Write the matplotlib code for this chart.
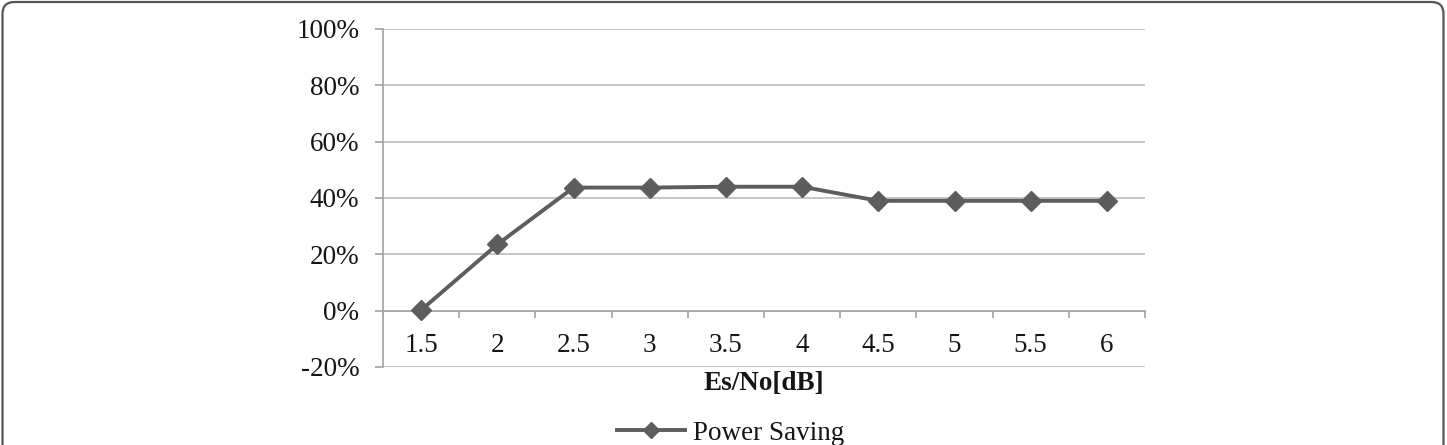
import matplotlib
matplotlib.use("Agg")
import matplotlib.pyplot as plt
import matplotlib.patches as mpatches
from matplotlib.ticker import FixedLocator, FuncFormatter

categories = ["1.5", "2", "2.5", "3", "3.5", "4", "4.5", "5", "5.5", "6"]
power_saving = [0.002, 0.235, 0.437, 0.437, 0.44, 0.44, 0.39, 0.39, 0.39, 0.39]
y_ticks = [-0.2, 0.0, 0.2, 0.4, 0.6, 0.8, 1.0]
series_name = "Power Saving"
x_label = "Es/No[dB]"

W, H = 1447, 445
FS = 19.5
plt.rcParams['font.family'] = ['Liberation Serif', 'DejaVu Serif']
fig = plt.figure(figsize=(W / 100, H / 100), dpi=100)

ax = fig.add_axes([383 / W, 1 - 367 / H, (1145 - 383) / W, (367 - 29) / H])
x = list(range(len(categories)))
line_color = "#5d5d5d"
grid_color = "#c0c0c0"
axis_color = "#a8a8a8"
text_color = "#151515"

ln, = ax.plot(x, power_saving, color=line_color, lw=2.8, marker='D', markersize=10,
              markerfacecolor=line_color, markeredgecolor=line_color, zorder=5,
              label=series_name, clip_on=False)

ax.set_xlim(-0.5, len(categories) - 0.5)
ax.set_ylim(y_ticks[0], y_ticks[-1])
ax.yaxis.set_major_locator(FixedLocator(y_ticks))
ax.yaxis.set_major_formatter(FuncFormatter(lambda v, p: f"{v*100:.0f}%"))
ax.grid(axis='y', color=grid_color, lw=1.3, zorder=0)
ax.set_axisbelow(True)

for s in ['top', 'right']:
    ax.spines[s].set_visible(False)
ax.spines['left'].set_color(axis_color)
ax.spines['left'].set_linewidth(1.3)
ax.spines['bottom'].set_position(('data', 0))
ax.spines['bottom'].set_color(axis_color)
ax.spines['bottom'].set_linewidth(1.3)

ax.set_xticks([i - 0.5 for i in range(len(categories) + 1)])
ax.set_xticklabels([])
ax.set_xticks(x, minor=True)
ax.set_xticklabels(categories, minor=True)
ax.tick_params(axis='x', which='major', direction='out', length=5, width=1.3, color=axis_color)
ax.tick_params(axis='x', which='minor', length=0, pad=16, labelsize=FS, labelcolor=text_color)
ax.tick_params(axis='y', direction='out', length=6, width=1.3, color=axis_color,
               labelsize=FS, labelcolor=text_color, pad=11)

fig.text(764 / W, 1 - 383 / H, x_label, ha='center', va='center', fontsize=FS,
         fontweight='bold', color=text_color)

fig.legend(handles=[ln], loc='center', bbox_to_anchor=(731 / W, 1 - 433 / H),
           frameon=False, fontsize=FS, handlelength=2.5, handletextpad=0.3,
           labelcolor=text_color, borderpad=0, markerscale=0.8)

frame = mpatches.FancyBboxPatch((0.025, -0.5), 14.41, 4.93,
                                boxstyle="round,pad=0,rounding_size=0.12",
                                transform=fig.dpi_scale_trans, fill=False,
                                edgecolor="#555555", lw=1.6)
fig.patches.append(frame)

fig.savefig("out.png", dpi=100)
